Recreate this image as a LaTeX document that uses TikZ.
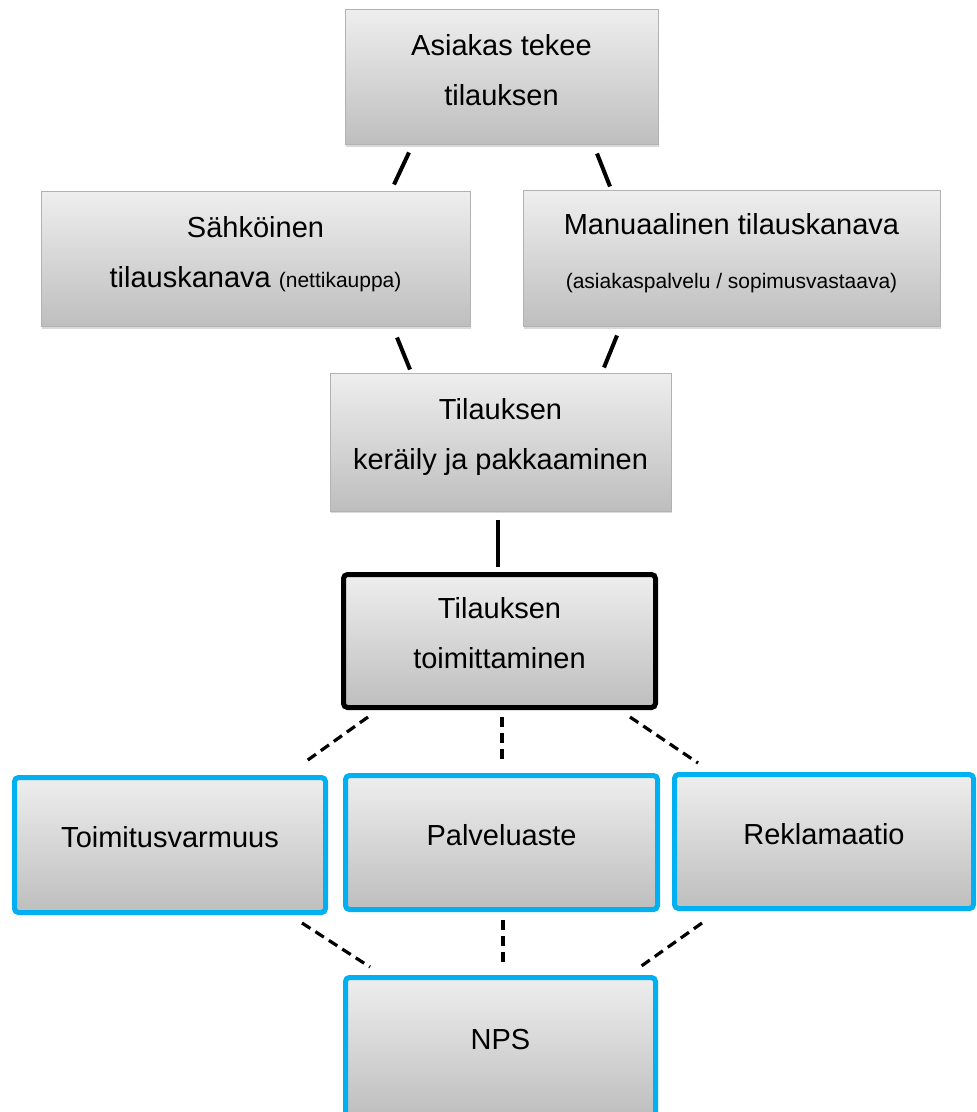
\documentclass[tikz,border=0pt]{standalone}
\usepackage{fontspec}
\setmainfont{Liberation Sans}
\usepackage{xcolor}
\usepackage{tikz}
\usetikzlibrary{positioning,calc,shadows}

\definecolor{boxtop}{RGB}{238,238,238}
\definecolor{boxbot}{RGB}{190,190,190}
\definecolor{mittari}{RGB}{0,176,240}
\newcommand{\padbot}{\rule[-8pt]{0pt}{8pt}}
\newcommand{\pieni}{\fontsize{10.5pt}{14pt}\selectfont}

\begin{document}
\begin{tikzpicture}[
  x=0.5pt, y=-0.5pt,                 % one unit = one pixel of the sketch
  every node/.style={align=center,inner sep=1pt,font=\fontsize{14.5pt}{25pt}\selectfont},
  vaihe/.style={rectangle, draw=black!30, line width=0.5pt, top color=boxtop, bottom color=boxbot,
    drop shadow={shadow xshift=0.6pt, shadow yshift=-1.2pt, opacity=0.3}},
  toimitusbox/.style={vaihe, draw=black, line width=2.5pt, rounded corners=2pt},
  mittaribox/.style={vaihe, draw=mittari, line width=2.5pt, rounded corners=2pt},
  yhteys/.style={line width=2pt},    % plain link
  katko/.style={line width=1.6pt, dash pattern=on 5pt off 3pt} % dashed link
]
\useasboundingbox (0,0) rectangle (977,1112);
\clip (0,0) rectangle (977,1112);

\node[vaihe, minimum width=156.5pt, minimum height=67.5pt] (asiakas) at (501.5,77.5) {Asiakas tekee\\tilauksen\padbot};
\node[vaihe, minimum width=214.5pt, minimum height=67.5pt] (sahko) at (255.5,259.5) {Sähköinen\\tilauskanava {\pieni(nettikauppa)}\padbot};
\node[vaihe, minimum width=208.5pt, minimum height=68pt] (manual) at (731.5,259) {Manuaalinen tilauskanava\\[2pt]{\pieni(asiakaspalvelu / sopimusvastaava)}\padbot};
\node[vaihe, minimum width=170.5pt, minimum height=69pt] (kerailly) at (500.5,442) {Tilauksen\\keräily ja pakkaaminen\padbot};
\node[toimitusbox, minimum width=156pt, minimum height=66.5pt] (toimitus) at (499.5,641) {Tilauksen\\toimittaminen\padbot};
\node[mittaribox, minimum width=155.5pt, minimum height=67.5pt] (varmuus) at (170,845) {Toimitusvarmuus\padbot};
\node[mittaribox, minimum width=156pt, minimum height=67pt] (palvelu) at (501.5,842.5) {Palveluaste\padbot};
\node[mittaribox, minimum width=149.5pt, minimum height=67pt] (reklam) at (824,841.5) {Reklamaatio\padbot};
\node[mittaribox, minimum width=155pt, minimum height=70pt] (nps) at (500.5,1047.5) {NPS\padbot};

\draw[yhteys] ($(asiakas.south)+(-92.5,7)$) -- ($(sahko.north)+(138.5,-7)$);
\draw[yhteys] ($(asiakas.south)+(95.5,8)$) -- ($(manual.north)+(-121.5,-4)$);
\draw[yhteys] ($(sahko.south)+(141.5,10)$) -- ($(kerailly.north)+(-90.5,-3)$);
\draw[yhteys] ($(manual.south)+(-114.5,8)$) -- ($(kerailly.north)+(103.5,-5)$);
\draw[yhteys] ($(kerailly.south)+(-2.5,8)$) -- ($(toimitus.north)+(-1.5,-5)$);

\draw[katko] ($(toimitus.south)+(-131.5,7)$) -- ($(varmuus.north)+(135,-13)$);
\draw[katko] ($(toimitus.south)+(2.5,7)$) -- ($(palvelu.north)+(0.5,-13)$);
\draw[katko] ($(toimitus.south)+(130.5,7)$) -- ($(reklam.north)+(-126,-9)$);
\draw[katko] ($(varmuus.south)+(132,8)$) -- ($(nps.north)+(-130.5,-8)$);
\draw[katko] ($(palvelu.south)+(1.5,8)$) -- ($(nps.north)+(2.5,-12)$);
\draw[katko] ($(reklam.south)+(-122,12)$) -- ($(nps.north)+(139.5,-8)$);
\end{tikzpicture}
\end{document}
